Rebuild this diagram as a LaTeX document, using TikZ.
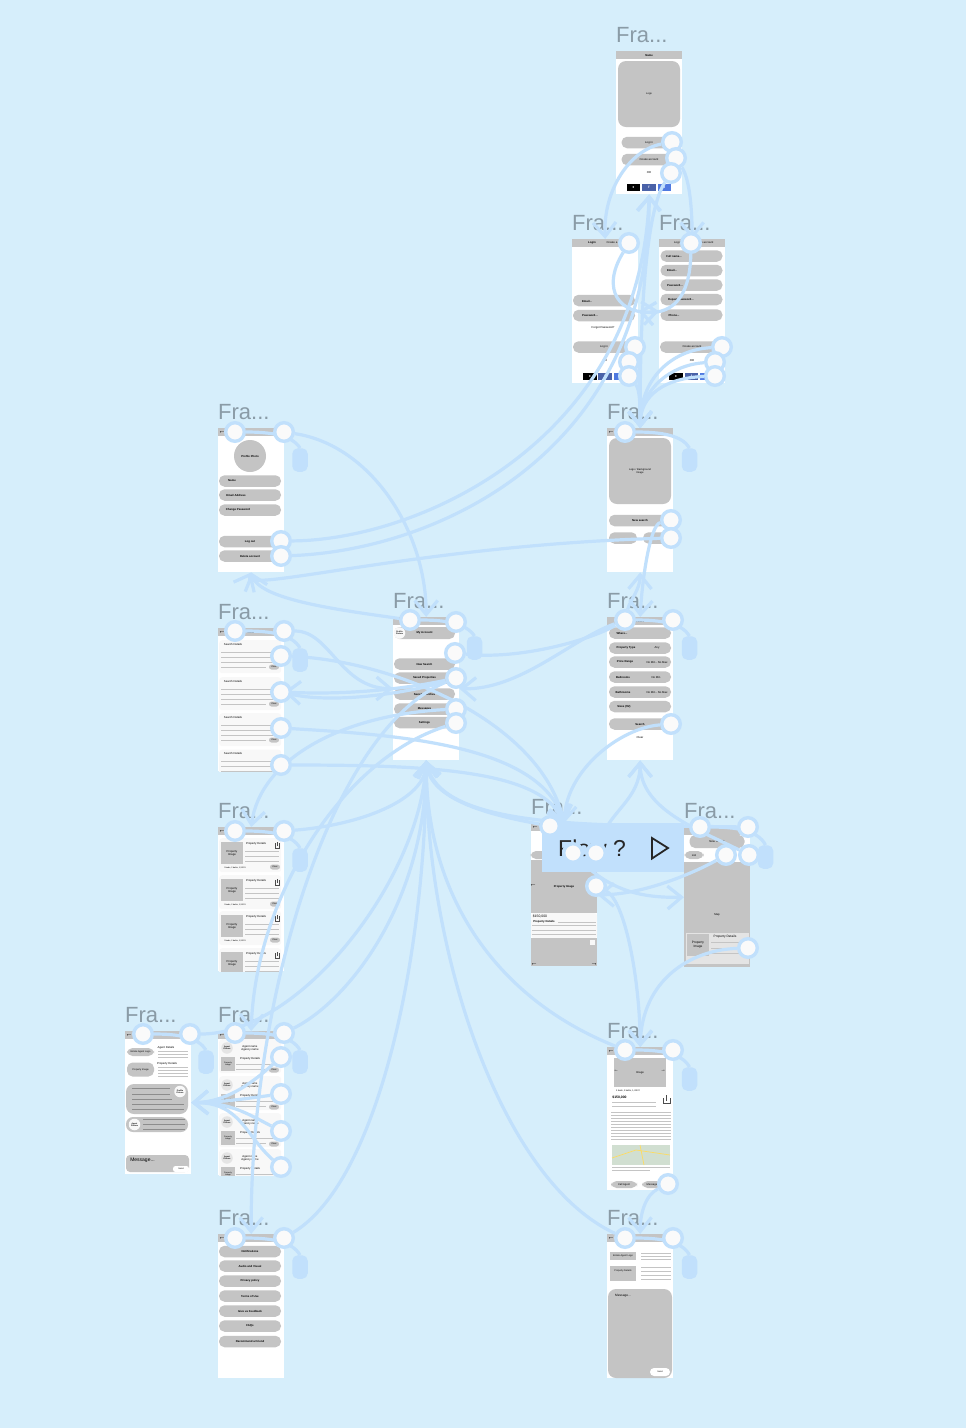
\documentclass[tikz,border=0pt]{standalone}
\usepackage{fontspec}
\setmainfont{Liberation Sans}
\usetikzlibrary{arrows.meta,positioning,calc}
\pgfdeclarelayer{background}
\pgfdeclarelayer{wires}
\pgfsetlayers{background,wires,main}

\definecolor{canvasblue}{HTML}{D6EEFB}
\definecolor{wireblue}{HTML}{C1E0FC}
\definecolor{titlegrey}{HTML}{8A9BA6}
\definecolor{mockgrey}{HTML}{C4C4C4}
\definecolor{cardgrey}{HTML}{F8F8F8}
\definecolor{fbblue}{HTML}{4A62A8}
\definecolor{twblue}{HTML}{4F79E0}

\tikzset{
  phone/.style={rectangle,fill=white,anchor=north west,minimum width=66pt,inner sep=0pt},
  screenbar/.style={rectangle,fill=mockgrey,anchor=north west,minimum width=66pt,minimum height=8pt,inner sep=0pt,font=\fontsize{2.8}{3}\selectfont},
  frametitle/.style={anchor=base west,inner sep=0pt,text=titlegrey,font=\fontsize{22}{24}\selectfont},
  tinytxt/.style={inner sep=0pt,font=\fontsize{2.8}{3.2}\selectfont,align=center},
  pillbar/.style={rectangle,rounded corners=5.5pt,fill=mockgrey,minimum width=62pt,minimum height=11.5pt,inner sep=0pt,font=\fontsize{2.8}{3}\selectfont\bfseries},
  photo/.style={rectangle,fill=mockgrey,inner sep=0pt,align=center,font=\fontsize{2.8}{3.2}\selectfont},
  bigpanel/.style={rectangle,rounded corners=8pt,fill=mockgrey,inner sep=0pt,align=center,font=\fontsize{2.6}{3}\selectfont},
  cardbox/.style={rectangle,rounded corners=3pt,fill=cardgrey,anchor=north west,inner sep=0pt},
  clearpill/.style={rectangle,rounded corners=2.5pt,fill=mockgrey,minimum width=10pt,minimum height=5pt,inner sep=0pt,font=\fontsize{2.2}{2.5}\selectfont},
  avatar/.style={circle,fill=cardgrey,minimum size=11.5pt,inner sep=0pt,align=center,font=\fontsize{2}{2.3}\selectfont\bfseries},
  social/.style={rectangle,minimum width=13.5pt,minimum height=7pt,inner sep=0pt,text=white,font=\fontsize{3.5}{4}\selectfont\bfseries},
  rulegrey/.style={draw=mockgrey,line width=0.6pt},
  backmark/.style={inner sep=0pt,font=\fontsize{7}{7}\selectfont\bfseries},
  port/.style={circle,fill=white!98!black,draw=wireblue,line width=3.4pt,minimum size=18.6pt,inner sep=0pt},
  grip/.style={rectangle,rounded corners=5.5pt,fill=wireblue,minimum width=15.5pt,minimum height=23.5pt,inner sep=0pt},
  wire/.style={draw=wireblue,line width=3.2pt},
  wirearrow/.style={wire,-{Straight Barb[length=14pt,width=23pt]}}
}

\newcommand{\threedots}{.\kern0pt.\kern0pt.}
\newcommand{\screen}[5]{%
  \node[phone,minimum height=#4pt] (#1) at (#2,#3) {};
  \node[screenbar] (#1Bar) at (#1.north west) {#5};
  \node[frametitle] (#1Title) at ([yshift=9pt]#1.north west) {Fra...};
}

\begin{document}
\begin{tikzpicture}[x=1pt,y=-1pt]
  \begin{pgfonlayer}{background}
    \fill[canvasblue] (0,0) rectangle (966,1428);

    % welcome
    \screen{welcome}{616}{51}{143}{\bfseries Name}
    \node[bigpanel,minimum width=62pt,minimum height=66pt] (welLogo) at (649,94) {Logo};
    \node[pillbar,minimum width=55pt] (welLogin) at (649,142.5) {\mdseries Log in};
    \node[pillbar,minimum width=55pt] (welCreate) at (649,159.5) {\mdseries Create account};
    \node[tinytxt] (welOr) at (649,173) {OR};
    \node[social,fill=black] (welApple) at (633.5,187.5) {\char"25CF};
    \node[social,fill=fbblue] (welFb) at (649,187.5) {f};
    \node[social,fill=twblue] (welTw) at (664.5,187.5) {t};

    % login
    \screen{login}{572}{239}{144}{}
    \node[tinytxt] (logTab) at (592,242.5) {\bfseries Login};
    \node[tinytxt] (logTabB) at (612,242.5) {Create a};
    \node[pillbar] (logEmail) at (604,300.5) {};
    \node[tinytxt] (logEmailT) at (587,301) {\bfseries Email...};
    \node[pillbar] (logPass) at (604,315.5) {};
    \node[tinytxt] (logPassT) at (590,315.5) {\bfseries Password...};
    \node[tinytxt] (logForgot) at (603,327.5) {Forgot Password?};
    \node[pillbar] (logGo) at (604,347) {\mdseries Log in};
    \node[tinytxt] (logOr) at (605,361) {OR};
    \node[social,fill=black] (logApple) at (590,376.5) {\char"25CF};
    \node[social,fill=fbblue] (logFb) at (605,376.5) {f};
    \node[social,fill=twblue] (logTw) at (621,376.5) {t};

    % signup
    \screen{signup}{659}{239}{144}{}
    \node[tinytxt] (sigTab) at (678,242.5) {Log in};
    \node[tinytxt] (sigTabB) at (704,242.5) {Create account};
    \foreach \ycen/\lab/\xlab [count=\i] in {256/Full name\threedots/674,270.5/Email\threedots/672,285/Password\threedots/675,299.5/Repeat password\threedots/681,315/Phone\threedots/674} {
      \node[pillbar] (sigRow\i) at (691.5,\ycen) {};
      \node[tinytxt] (sigRowT\i) at (\xlab,\ycen) {\bfseries\lab};
    }
    \node[pillbar,minimum width=64pt] (sigGo) at (692,347) {\mdseries Create account};
    \node[tinytxt] (sigOr) at (692,361) {OR};
    \node[social,fill=black] (sigApple) at (676,376.5) {\char"25CF};
    \node[social,fill=fbblue] (sigFb) at (691.5,376.5) {f};
    \node[social,fill=twblue] (sigTw) at (707,376.5) {t};

    % profile
    \screen{profile}{218}{428}{144}{Profile}
    \node[circle,fill=mockgrey,minimum size=32pt,inner sep=0pt,font=\fontsize{2.8}{3}\selectfont\bfseries] (proPhoto) at (250,456) {Profile Photo};
    \foreach \ycen/\lab/\xlab [count=\i] in {481/Name/232,495/Email Address/236,510/Change Password/238} {
      \node[pillbar] (proRow\i) at (250,\ycen) {};
      \node[tinytxt] (proRowT\i) at (\xlab,\ycen) {\bfseries\lab};
    }
    \node[pillbar] (proOut) at (250,541.5) {Log out};
    \node[pillbar] (proDel) at (250,556) {Delete account};

    % home
    \screen{home}{607}{428}{144}{}
    \node[bigpanel,minimum width=62pt,minimum height=66pt] (homLogo) at (640,471) {Logo / Background\\Image};
    \node[pillbar] (homSearch) at (640,520.5) {New search};
    \node[pillbar,minimum width=28pt] (homLeft) at (623,538) {};
    \node[pillbar,minimum width=28pt] (homRight) at (657,538) {};

    % saved searches
    \screen{saved}{218}{628}{143}{Saved}
    \begin{scope}
      \clip (218,628) rectangle (284,771);
      \foreach \ctop [count=\i] in {640,677,713,749.5} {
        \begin{scope}[shift={(0,\ctop)}]
          \node[cardbox,minimum width=62pt,minimum height=33pt] (savCard\i) at (219,0) {};
          \node[tinytxt] (savText\i) at (233,4) {Search Details};
          \draw[rulegrey] (221,12)--(279,12) (221,17)--(279,17) (221,22)--(279,22) (221,27)--(266,27);
          \node[clearpill] (savClear\i) at (274,27) {Clear};
        \end{scope}
      }
    \end{scope}

    % menu
    \screen{menu}{393}{617}{143}{}
    \node[pillbar,minimum width=61pt,minimum height=12pt] (menAccount) at (424.5,633) {My Account};
    \node[avatar] (menPic) at (399.5,633) {Profile\\Picture};
    \foreach \ycen/\lab [count=\i] in {664/New Search,678/Saved Properties,694/Saved Searches,709/Messages,722.5/Settings} {
      \node[pillbar,minimum width=61pt] (menRow\i) at (424.5,\ycen) {\lab};
    }

    % filter
    \screen{filter}{607}{617}{143}{Filters}
    \foreach \ycen/\lab/\xlab [count=\i] in {633/Where\threedots/622,648/Property Type/626,662/Price Range/625,677/Bedrooms/623,692/Bathrooms/623,706.5/Sizes (ft2)/624} {
      \node[pillbar] (filRow\i) at (640,\ycen) {};
      \node[tinytxt] (filRowT\i) at (\xlab,\ycen) {\bfseries\lab};
    }
    \node[tinytxt] (filAny) at (657,648) {Any};
    \node[tinytxt] (filPrice) at (657,662) {No Min - No Max};
    \node[tinytxt] (filBed) at (656,677) {No Min};
    \node[tinytxt] (filBath) at (657,692) {No Min - No Max};
    \node[pillbar] (filSearch) at (640,724) {Search};
    \node[tinytxt] (filClear) at (640,737) {Clear};

    % listing
    \screen{listing}{218}{827}{144}{Results}
    \begin{scope}
      \clip (218,827) rectangle (284,971);
      \foreach \ctop [count=\i] in {838,875,911,948} {
        \begin{scope}[shift={(0,\ctop)}]
          \node[cardbox,minimum width=62pt,minimum height=34pt] (lisCard\i) at (219,0) {};
          \node[photo,minimum width=22pt,minimum height=22pt] (lisImg\i) at (232,15) {Property\\Image};
          \node[tinytxt] (lisText\i) at (256,6) {Property Details};
          \draw[rulegrey] (245,13)--(279,13) (245,18)--(279,18) (245,23)--(279,23);
          \draw[black!70,line width=0.4pt] (275,5)--(275,10)--(279,10)--(279,5) (277,8)--(277,3.5);
          \node[tinytxt,font=\fontsize{2}{2.4}\selectfont] (lisSub\i) at (235,30) {3 beds, 2 baths, 1,200 ft};
          \node[clearpill] (lisClear\i) at (275,29) {Clear};
        \end{scope}
      }
    \end{scope}

    % results
    \screen{results}{531}{823}{143}{}
    \node[pillbar,minimum width=19pt,minimum height=8pt] (resSort) at (540,855) {};
    \node[photo,minimum width=66pt,minimum height=53pt,font=\fontsize{2.8}{3}\selectfont\bfseries] (resImg) at (564,886.5) {Property Image};
    \node[backmark] (resArrow) at (533,885) {\char"2190};
    \node[cardbox,minimum width=66pt,minimum height=25pt] (resCard) at (531,913) {};
    \node[tinytxt,font=\fontsize{3.4}{4}\selectfont] (resPrice) at (540,916) {\$150,000};
    \node[tinytxt] (resDet) at (544,921.5) {\bfseries Property Details};
    \draw[rulegrey] (558,922)--(596,922) (532,925)--(596,925) (532,930)--(596,930) (532,934)--(596,934);
    \node[photo,minimum width=66pt,minimum height=28pt] (resImgB) at (564,952) {};
    \node[backmark] (resLeft) at (534,964) {\char"2190};
    \node[backmark] (resRight) at (594,964) {\char"2192};
    \node[rectangle,fill=cardgrey,minimum width=5pt,minimum height=5pt,inner sep=0pt] (resIcon) at (592,942) {};

    % map
    \screen{mapview}{684}{827}{140}{}
    \node[pillbar,minimum width=55pt,minimum height=13pt] (mapSearch) at (717,841.5) {\mdseries New Search};
    \node[pillbar,minimum width=19pt,minimum height=8pt] (mapList) at (694,855) {\mdseries List};
    \node[photo,minimum width=66pt,minimum height=105pt] (mapArea) at (717,914.5) {Map};
    \node[rectangle,fill=cardgrey!92!black,anchor=north west,minimum width=63pt,minimum height=31pt,inner sep=0pt] (mapCard) at (686,933) {};
    \node[photo,minimum width=22pt,minimum height=22pt,font=\fontsize{3.2}{3.6}\selectfont] (mapImg) at (698,945) {Property\\Image};
    \node[tinytxt,font=\fontsize{3.2}{3.6}\selectfont] (mapDet) at (725,937) {Property Details};
    \draw[rulegrey] (711,942)--(746,942) (711,948)--(746,948) (711,953)--(746,953);

    % thread
    \screen{thread}{125}{1031}{143}{}
    \node[pillbar,minimum width=27pt,minimum height=8pt,font=\fontsize{2.4}{3}\selectfont\mdseries] (thrLogo) at (140.5,1052) {Estate Agent Logo};
    \node[pillbar,minimum width=27pt,minimum height=14pt,font=\fontsize{2.4}{3}\selectfont\mdseries] (thrProp) at (140.5,1069.5) {Property Image};
    \node[tinytxt] (thrAgent) at (166,1048) {Agent Details};
    \node[tinytxt] (thrDet) at (167,1064) {Property Details};
    \draw[rulegrey] (158,1051)--(188,1051) (158,1054)--(188,1054) (158,1057)--(188,1057);
    \draw[rulegrey] (158,1067)--(188,1067) (158,1070)--(188,1070) (158,1073)--(188,1073) (158,1076)--(188,1076);
    \node[bigpanel,minimum width=62pt,minimum height=30pt] (thrPanel) at (157,1099) {};
    \draw[black!45,line width=0.5pt] (132,1088)--(170,1088) (132,1094)--(170,1094) (132,1099)--(172,1099) (132,1104)--(184,1104) (132,1109)--(184,1109);
    \node[avatar] (thrPic) at (180,1091.5) {Profile\\Picture};
    \node[pillbar,minimum width=62pt,minimum height=15pt,rounded corners=7pt] (thrAgentBar) at (157,1124.5) {};
    \node[avatar] (thrAgentPic) at (134.5,1124.5) {Agent\\Picture};
    \draw[black!45,line width=0.5pt] (143,1119)--(185,1119) (143,1124)--(185,1124) (143,1129)--(185,1129);
    \node[pillbar,minimum width=63pt,minimum height=17pt,rounded corners=4pt] (thrMsg) at (157.5,1163.5) {};
    \node[tinytxt,font=\fontsize{5}{6}\selectfont] (thrMsgT) at (142.5,1160) {Message...};
    \node[clearpill,fill=white,minimum width=16pt,minimum height=6pt] (thrSend) at (181,1169) {Send};

    % agents
    \screen{agents}{218}{1031}{144}{}
    \begin{scope}
      \clip (218,1031) rectangle (284,1175);
      \foreach \ctop [count=\i] in {1039,1076,1113,1149} {
        \begin{scope}[shift={(0,\ctop)}]
          \node[cardbox,minimum width=62pt,minimum height=34pt] (ageCard\i) at (219,0) {};
          \node[avatar,fill=cardgrey!92!black] (agePic\i) at (227,9) {Agent\\Picture};
          \node[tinytxt] (ageName\i) at (250,9) {Agent name\\Agency name};
          \node[photo,minimum width=14pt,minimum height=14pt,font=\fontsize{2}{2.4}\selectfont] (ageImg\i) at (228,25) {Property\\Image};
          \node[tinytxt] (ageDet\i) at (250,20) {Property Details};
          \draw[rulegrey] (236,25)--(279,25) (236,30)--(266,30);
          \node[clearpill] (ageClear\i) at (274,31) {Clear};
        \end{scope}
      }
    \end{scope}

    % property
    \screen{property}{607}{1047}{143}{}
    \node[photo,minimum width=52pt,minimum height=29pt] (prtImg) at (640,1072.5) {Image};
    \node[backmark,font=\fontsize{5}{5}\selectfont\bfseries] (prtLeft) at (616,1071) {\char"2190};
    \node[backmark,font=\fontsize{5}{5}\selectfont\bfseries] (prtRight) at (663,1071) {\char"2192};
    \node[tinytxt,font=\fontsize{2.2}{2.6}\selectfont] (prtSub) at (628,1091) {3 beds, 2 baths, 1,200 ft};
    \node[tinytxt,font=\fontsize{3.4}{4}\selectfont\bfseries] (prtPrice) at (619.5,1097) {\$150,000};
    \draw[black!70,line width=0.5pt] (663,1098)--(663,1103)--(670,1103)--(670,1098) (666.5,1101)--(666.5,1095);
    \draw[rulegrey] (612,1102)--(656,1102) (612,1106)--(656,1106);
    \foreach \yline in {1112,1115,1118,1121,1124,1127,1130,1133,1136,1139} {
      \draw[rulegrey,line width=0.5pt] (611,\yline)--(671,\yline);
    }
    \node[rectangle,fill=green!30!black!18,anchor=north west,minimum width=58pt,minimum height=20pt,inner sep=0pt] (prtMap) at (612,1145) {};
    \draw[yellow!60!orange!60,line width=0.7pt] (612,1158)--(636,1150)--(670,1155) (640,1145)--(644,1165);
    \draw[rulegrey,line width=0.5pt] (612,1167)--(670,1167) (612,1170)--(650,1170);
    \node[pillbar,minimum width=26pt,minimum height=7pt,font=\fontsize{2.6}{3}\selectfont\mdseries] (prtCall) at (624,1184.5) {Call Agent};
    \node[pillbar,minimum width=20pt,minimum height=7pt,font=\fontsize{2.6}{3}\selectfont\mdseries] (prtMsg) at (652,1184.5) {Message};

    % settings
    \screen{settings}{218}{1234}{144}{}
    \foreach \ycen/\lab [count=\i] in {1251.5/Notifications,1266/Audio and Visual,1281/Privacy policy,1296/Terms of Use,1311/Give us Feedback,1326/FAQs,1341.5/Recommend a Friend} {
      \node[pillbar] (setRow\i) at (250,\ycen) {\lab};
    }

    % chat
    \screen{chat}{607}{1234}{144}{}
    \node[photo,minimum width=26pt,minimum height=8pt,font=\fontsize{2.4}{3}\selectfont] (chaLogo) at (623,1256) {Estate Agent Logo};
    \node[photo,minimum width=26pt,minimum height=15pt,font=\fontsize{2.4}{3}\selectfont] (chaProp) at (623,1273) {\raisebox{4pt}{Property Details}};
    \draw[rulegrey] (641,1253)--(671,1253) (641,1256)--(671,1256) (641,1259)--(671,1259) (641,1267)--(671,1267) (641,1271)--(671,1271) (641,1275)--(671,1275) (641,1279)--(671,1279);
    \node[bigpanel,minimum width=64pt,minimum height=89pt] (chaPanel) at (640,1333.5) {};
    \node[tinytxt,font=\fontsize{3.2}{4}\selectfont] (chaMsg) at (623,1295.5) {Message...};
    \node[clearpill,fill=white,minimum width=20pt,minimum height=8pt,rounded corners=4pt] (chaSend) at (660,1372) {Send};

    % back arrows in the bars
    \foreach \bname/\bx/\by in {proBack/222/432,homBack/611/432,savBack/222/632,lisBack/222/831,resBack/535/827,thrBack/129/1035,ageBack/222/1035,prtBack/611/1051,setBack/222/1238,chaBack/611/1238} {
      \node[backmark] (\bname) at (\bx,\by) {\char"2190};
    }
  \end{pgfonlayer}

  % flow label
  \node[rectangle,fill=wireblue,minimum width=142pt,minimum height=49pt,inner sep=0pt] (flowbox) at (612.5,847.5) {};
  \node[anchor=base west,inner sep=0pt,text=black!85,font=\fontsize{23}{24}\selectfont] (flowtext) at (558,856) {Flow ?};
  \coordinate (flowplay) at (652,838);
  \draw[black!85,line width=1.8pt,line join=miter] (flowplay) -- (668,848) -- (652,858.5) -- cycle;

  % grips
  \foreach \gname/\gx/\gy in {proGrip/300/460,homGrip/689.5/460,savGrip/300/660,menGrip/474.5/648,filGrip/689.5/648,lisGrip/300/860,mapGrip/765.5/857,thrGrip/206/1062,ageGrip/300/1062,prtGrip/689.5/1079,setGrip/300/1267,chaGrip/689.5/1267} {
    \node[grip] (\gname) at (\gx,\gy) {};
  }

  % ports
  \foreach \pname/\px/\py in {
    welP1/672/142,welP2/676/158,welP3/671/173,
    logP1/629/243,logP2/635/347,logP3/629/362,logP4/629/376,
    sigP1/691/243,sigP2/722/347,sigP3/715/362,sigP4/715/376,
    proP1/235/432,proP2/284/432,proP3/281/541,proP4/281/556,
    homP1/625/432,homP2/671/520,homP3/671/538,
    savP1/235/631,savP2/284/631,savP3/281/656,savP4/281/692,savP5/281/728,savP6/281/765,
    menP1/410/620,menP2/456/622,menP3/455/653,menP4/456/678,menP5/456/709,menP6/456/723,
    filP1/625/620,filP2/673/620,filP3/671/724,
    lisP1/235/831,lisP2/284/831,
    resP1/550/826,resP2/573/853,resP3/596/853,resP4/596/886,
    mapP1/700/827,mapP2/748/827,mapP3/726/855,mapP4/749/855,mapP5/748/948,
    thrP1/143/1034,thrP2/190/1034,
    ageP1/235/1033,ageP2/284/1033,ageP3/281/1057,ageP4/281/1094,ageP5/281/1131,ageP6/281/1167,
    prtP1/625/1050,prtP2/673/1050,prtP3/668/1184,
    setP1/235/1238,setP2/284/1238,
    chaP1/625/1238,chaP2/673/1238} {
    \node[port] (\pname) at (\px,\py) {};
  }

  \coordinate (savSide) at (284,692);

  \begin{pgfonlayer}{wires}
    % to the grips
    \draw[wire] (proP1) .. controls (270,432) and (292,435) .. (proGrip.north);
    \draw[wire] (homP1) .. controls (660,432) and (682,435) .. (homGrip.north);
    \draw[wire] (savP1) .. controls (270,631) and (292,634) .. (savGrip.north);
    \draw[wire] (menP1) .. controls (445,620) and (466,623) .. (menGrip.north);
    \draw[wire] (filP1) .. controls (660,620) and (682,623) .. (filGrip.north);
    \draw[wire] (lisP1) .. controls (270,831) and (292,834) .. (lisGrip.north);
    \draw[wire] (mapP1) .. controls (735,827) and (758,830) .. (mapGrip.north);
    \draw[wire] (thrP1) .. controls (178,1034) and (198,1037) .. (thrGrip.north);
    \draw[wire] (ageP1) .. controls (270,1033) and (292,1036) .. (ageGrip.north);
    \draw[wire] (prtP1) .. controls (660,1050) and (682,1053) .. (prtGrip.north);
    \draw[wire] (setP1) .. controls (270,1238) and (292,1241) .. (setGrip.north);
    \draw[wire] (chaP1) .. controls (660,1238) and (682,1241) .. (chaGrip.north);

    % welcome, login, signup
    \draw[wirearrow] (welP1) .. controls (630,150) and (603,190) .. (login.north);
    \draw[wirearrow] (welP2) .. controls (690,180) and (692,210) .. (signup.north);
    \draw[wirearrow] (welP3) .. controls (640,220) and (640,380) .. (home.north);
    \draw[wirearrow] (logP1) .. controls (600,290) and (620,316) .. (signup.west);
    \draw[wirearrow] (sigP1) .. controls (690,300) and (670,316) .. (login.east);
    \draw[wirearrow] (logP2) .. controls (640,360) and (640,390) .. (home.north);
    \draw[wirearrow] (logP3) .. controls (640,375) and (640,400) .. (home.north);
    \draw[wirearrow] (logP4) .. controls (640,390) and (640,405) .. (home.north);
    \draw[wirearrow] (sigP2) .. controls (670,350) and (640,380) .. (home.north);
    \draw[wirearrow] (sigP3) .. controls (670,365) and (640,390) .. (home.north);
    \draw[wirearrow] (sigP4) .. controls (665,378) and (640,395) .. (home.north);
    \draw[wirearrow] (proP3) .. controls (420,540) and (640,440) .. (welcome.south);
    \draw[wirearrow] (proP4) .. controls (440,550) and (650,450) .. (welcome.south);

    % profile, home, filter
    \draw[wirearrow] (proP2) .. controls (370,445) and (426,530) .. (menu.north);
    \draw[wirearrow] (menP1) .. controls (340,610) and (260,600) .. (profile.south);
    \draw[wirearrow] (homP3) .. controls (420,545) and (240,595) .. (profile.south);
    \draw[wirearrow] (homP2) .. controls (650,525) and (642,580) .. (filter.north);
    \draw[wirearrow] (filP1) .. controls (630,600) and (640,590) .. (home.south);
    \draw[wire] (menP3) .. controls (520,660) and (590,640) .. (filP1);
    \draw[wirearrow] (filP1) .. controls (570,640) and (520,690) .. (menu.east);
    \draw[wirearrow] (filP3) .. controls (620,728) and (566,770) .. (results.north);

    % saved searches and menu
    \draw[wirearrow] (savP2) .. controls (330,631) and (340,688) .. (menu.west);
    \draw[wirearrow] (savP3) .. controls (390,660) and (540,720) .. (results.north);
    \draw[wire] (savP4) .. controls (340,705) and (420,690) .. (menP4);
    \draw[wirearrow] (savP5) .. controls (400,735) and (540,745) .. (results.north);
    \draw[wirearrow] (savP6) .. controls (430,765) and (540,770) .. (results.north);
    \draw[wirearrow] (menP4) .. controls (400,690) and (340,695) .. (savSide);
    \draw[wirearrow] (menP4) .. controls (330,730) and (250,1000) .. (settings.north);
    \draw[wirearrow] (menP5) .. controls (340,715) and (260,760) .. (listing.north);
    \draw[wirearrow] (menP6) .. controls (340,760) and (255,900) .. (agents.north);

    % into the menu from below
    \draw[wirearrow] (lisP2) .. controls (360,825) and (426,800) .. (menu.south);
    \draw[wirearrow] (thrP2) .. controls (300,1034) and (420,880) .. (menu.south);
    \draw[wirearrow] (ageP2) .. controls (350,1000) and (426,900) .. (menu.south);
    \draw[wirearrow] (setP2) .. controls (380,1180) and (426,950) .. (menu.south);
    \draw[wirearrow] (resP1) .. controls (490,815) and (430,800) .. (menu.south);
    \draw[wirearrow] (mapP2) .. controls (600,825) and (440,830) .. (menu.south);
    \draw[wirearrow] (prtP1) .. controls (500,1000) and (426,900) .. (menu.south);
    \draw[wirearrow] (chaP1) .. controls (500,1180) and (426,950) .. (menu.south);

    % results and map
    \draw[wirearrow] (resP3) .. controls (610,810) and (640,800) .. (filter.south);
    \draw[wirearrow] (mapP4) .. controls (700,830) and (640,810) .. (filter.south);
    \draw[wirearrow] (resP2) .. controls (610,890) and (640,898) .. (mapview.west);
    \draw[wirearrow] (mapP3) .. controls (690,875) and (640,895) .. (results.east);
    \draw[wirearrow] (resP4) .. controls (625,900) and (640,980) .. (property.north);
    \draw[wirearrow] (mapP5) .. controls (690,950) and (642,980) .. (property.north);
    \draw[wirearrow] (prtP3) .. controls (645,1195) and (640,1215) .. (chat.north);

    % agents to thread
    \draw[wirearrow] (ageP3) .. controls (250,1085) and (225,1102) .. (thread.east);
    \draw[wirearrow] (ageP4) .. controls (250,1098) and (225,1102) .. (thread.east);
    \draw[wirearrow] (ageP5) .. controls (250,1115) and (230,1102) .. (thread.east);
    \draw[wirearrow] (ageP6) .. controls (245,1135) and (240,1102) .. (thread.east);
  \end{pgfonlayer}

  \useasboundingbox (0,0) rectangle (966,1428);
\end{tikzpicture}
\end{document}
